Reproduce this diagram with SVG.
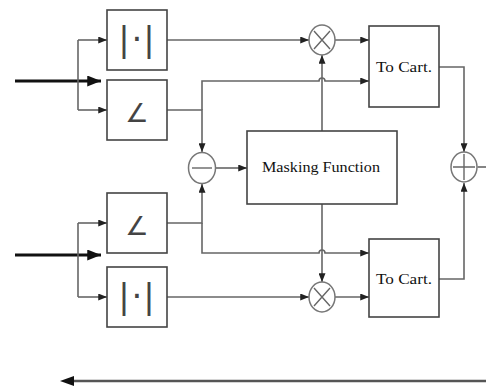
<svg xmlns="http://www.w3.org/2000/svg" width="486" height="387" viewBox="0 0 486 387">
<defs>
<marker id="ah" viewBox="0 0 10 8" refX="10" refY="4" markerWidth="9" markerHeight="7" markerUnits="userSpaceOnUse" orient="auto">
<path d="M0,0 L10,4 L0,8 z" fill="#222"/>
</marker>
<marker id="ahb" viewBox="0 0 10 8" refX="10" refY="4" markerWidth="14" markerHeight="11" markerUnits="userSpaceOnUse" orient="auto">
<path d="M0,0 L10,4 L0,8 z" fill="#111"/>
</marker>
</defs>
<style>
.box{fill:#fff;stroke:#444;stroke-width:1.6}
.op{fill:#fff;stroke:#777;stroke-width:1.5}
.sym{stroke:#666;stroke-width:1.4;fill:none}
.c{fill:none;stroke:#666;stroke-width:1.6}
.ca{fill:none;stroke:#666;stroke-width:1.6;marker-end:url(#ah)}
.in{fill:none;stroke:#111;stroke-width:3;marker-end:url(#ahb)}
.lbl{font-family:"Liberation Serif",serif;font-size:15px;fill:#111;text-anchor:middle}
.glyph{font-family:"DejaVu Sans",sans-serif;fill:#444;text-anchor:middle}
</style>
<rect width="486" height="387" fill="#fff"/>
<g id="connectors">
<path class="in" d="M15,81 H101"/>
<path class="in" d="M15,255 H101"/>
<path class="c" d="M78,40 V110"/>
<path class="ca" d="M78,40 H107"/>
<path class="ca" d="M78,110 H107"/>
<path class="c" d="M78,223 V297"/>
<path class="ca" d="M78,223 H107"/>
<path class="ca" d="M78,297 H107"/>
<path class="ca" d="M167,40 H309"/>
<path class="ca" d="M167,110 H202 V152"/>
<path class="ca" d="M202,110 V81 H319 A3,3 0 0 1 325,81 H369"/>
<path class="ca" d="M335,40 H369"/>
<path class="ca" d="M322,131 V55"/>
<path class="ca" d="M215.5,168 H247"/>
<path class="ca" d="M439,67 H464 V152"/>
<path class="c" d="M477.5,167 H486"/>
<path class="ca" d="M167,223 H202 V184"/>
<path class="ca" d="M202,223 V253 H319 A3,3 0 0 1 325,253 H369"/>
<path class="ca" d="M167,297 H309"/>
<path class="ca" d="M322,204 V282"/>
<path class="ca" d="M335,297 H369"/>
<path class="ca" d="M439,279 H464 V183"/>
<path fill="none" stroke="#555" stroke-width="2.6" d="M486,381 H72"/>
<path d="M60,381 L74,376 L74,386 z" fill="#111"/>
</g>
<g id="abs1">
<rect class="box" x="107" y="10" width="60" height="60"/>
<text class="glyph" x="124 137 149" y="51" font-size="34">|·|</text>
</g>
<g id="ang1">
<rect class="box" x="107" y="80" width="60" height="60"/>
<text class="glyph" x="137" y="122" font-size="26">∠</text>
</g>
<g id="ang2">
<rect class="box" x="107" y="193" width="60" height="60"/>
<text class="glyph" x="137" y="235" font-size="26">∠</text>
</g>
<g id="abs2">
<rect class="box" x="107" y="267" width="60" height="60"/>
<text class="glyph" x="124 137 149" y="308" font-size="34">|·|</text>
</g>
<g id="minus">
<ellipse class="op" cx="202" cy="168" rx="13.5" ry="15.5"/>
<path class="sym" d="M192,168 H212" stroke="#333" stroke-width="2"/>
</g>
<g id="masking">
<rect class="box" x="247" y="131" width="150" height="73"/>
<text class="lbl" x="321" y="172" textLength="118" lengthAdjust="spacingAndGlyphs">Masking Function</text>
</g>
<g id="mul1">
<ellipse class="op" cx="322" cy="40" rx="13" ry="15"/>
<path class="sym" d="M314,31 L330,49 M330,31 L314,49"/>
</g>
<g id="mul2">
<ellipse class="op" cx="322" cy="297" rx="13" ry="15"/>
<path class="sym" d="M314,288 L330,306 M330,288 L314,306"/>
</g>
<g id="tocart1">
<rect class="box" x="369" y="26" width="70" height="81"/>
<text class="lbl" x="404" y="72" textLength="56" lengthAdjust="spacingAndGlyphs">To Cart.</text>
</g>
<g id="tocart2">
<rect class="box" x="369" y="239" width="70" height="78"/>
<text class="lbl" x="404" y="284" textLength="56" lengthAdjust="spacingAndGlyphs">To Cart.</text>
</g>
<g id="plus">
<ellipse class="op" cx="464" cy="167" rx="13" ry="15"/>
<path class="sym" d="M453,167 H475 M464,154 V180" stroke="#333"/>
</g>
</svg>
